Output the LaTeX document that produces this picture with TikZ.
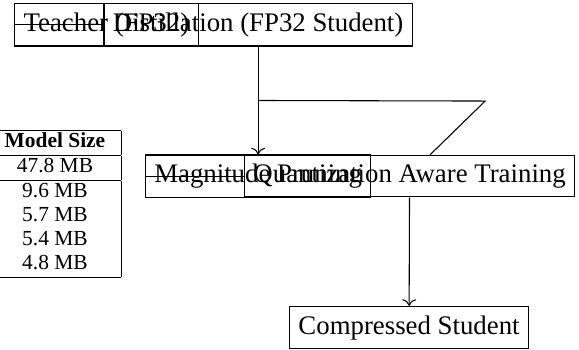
\documentclass[tikz,border=0pt]{standalone}
\usepackage{fontspec}
\setmainfont{Liberation Serif}
\usepackage{tikz}
\usetikzlibrary{arrows.meta,positioning,calc}

\tikzset{
    stage/.style={draw, rectangle},
}

\begin{document}
\begin{tikzpicture}[x=1pt,y=1pt]
    \useasboundingbox (0,0) rectangle (216.0,130.2);

    % Stages
    \node[stage] (teacher) at (39.7,120.9) {Teacher (FP32)};
    \node[stage] (distill) at (96.3,120.9) {Distillation (FP32 Student)};
    \node[stage] (prune) at (96.3,64.5) {Magnitude Pruning};
    \node[stage] (qat) at (152.8,64.5) {Quantization Aware Training};
    \node[stage] (compressed) at (152.6,8.0) {Compressed Student};

    % Size table
    \node[inner sep=0pt] (sizes) at (20.5,54.1) {\footnotesize
        \renewcommand{\arraystretch}{0.94}%
        \begin{tabular}{|c|}
            \hline
            \textbf{Model Size}\\
            \hline
            47.8 MB\\
            \hline
            9.6 MB\\
            5.7 MB\\
            5.4 MB\\
            4.8 MB\\
            \hline
        \end{tabular}};

    % Flow
    \draw (teacher.west) -- (distill.west);
    \draw (prune.west) -- (qat.west);
    \draw[->] (distill) -- (prune);
    \coordinate (mid) at ($(distill.south)!0.5!(prune.north)$);
    \coordinate (bend) at (181.0,92.5);
    \coordinate (qend) at ([xshift=7.6pt]qat.north);
    \draw (mid) -- (bend) -- (qend);
    \draw[->] (qat) -- (compressed);
\end{tikzpicture}
\end{document}
